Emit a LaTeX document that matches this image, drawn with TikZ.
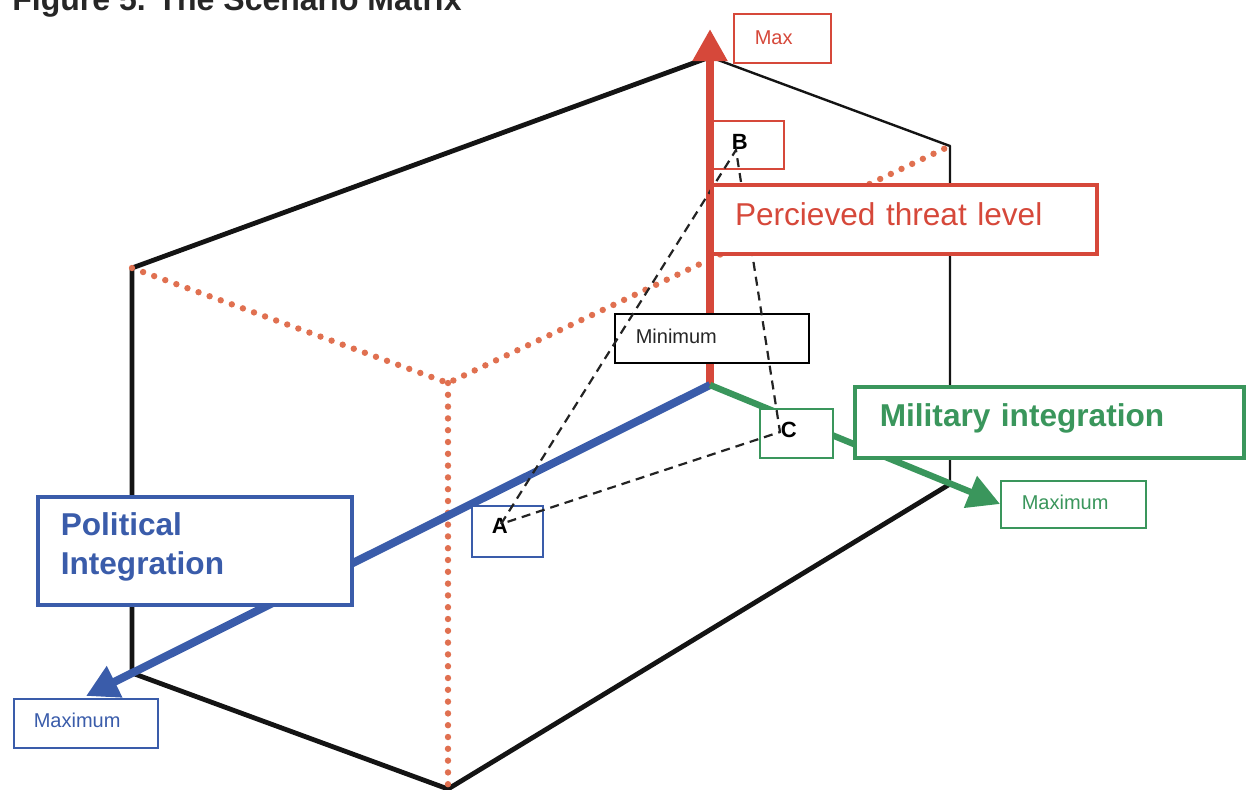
\documentclass[tikz,border=0pt]{standalone}
\usepackage{fontspec}
\setmainfont{Liberation Sans}
\usetikzlibrary{arrows.meta}

\definecolor{axred}{RGB}{214,72,58}
\definecolor{dotred}{RGB}{224,112,80}
\definecolor{axblue}{RGB}{58,92,170}
\definecolor{axgreen}{RGB}{58,150,92}
\definecolor{edgeblack}{RGB}{20,20,20}
\definecolor{linkgrey}{RGB}{35,35,35}

\tikzset{
  edgethick/.style={draw=edgeblack, line width=2.4pt, line join=round},
  edgethin/.style={draw=edgeblack, line width=1.2pt, line join=round},
  hiddenedge/.style={draw=dotred, line width=3.2pt, line cap=round, dash pattern=on 0pt off 5.9pt},
  axis/.style={line width=4pt, -{Triangle[length=16pt,width=16.5pt]}},
  tbox/.style={draw, fill=white, anchor=north west, inner ysep=0pt, align=left},
  thinbox/.style={tbox, line width=0.8pt, font=\fontsize{10}{12}\selectfont},
  thickbox/.style={tbox, line width=1.8pt, font=\fontsize{15.8}{19.5}\selectfont},
  letterbox/.style={thinbox, text=black, font=\bfseries\fontsize{11}{12}\selectfont},
  link/.style={draw=linkgrey, line width=1.1pt, dash pattern=on 4.5pt off 3pt}
}

\begin{document}
\begin{tikzpicture}[x=0.5pt, y=-0.5pt]
\useasboundingbox (0,0) rectangle (1248,789);
\clip (0,0) rectangle (1248,789);

% title, partly cut by the top edge
\node[anchor=base west, inner sep=0pt, text=black!85,
      font=\bfseries\fontsize{16}{19}\selectfont] (title) at (12,10)
      {Figure 5. The Scenario Matrix};

% corners of the box
\coordinate (ltop) at (132,268);
\coordinate (apex) at (710,57);
\coordinate (rtop) at (950,146);
\coordinate (lbot) at (132,673);
\coordinate (fbot) at (448,789);
\coordinate (rbot) at (950,484);
\coordinate (ftop) at (448,383);

% visible edges
\draw[edgethick] (lbot) -- (ltop) -- (apex);
\draw[edgethin] (apex) -- (rtop) -- (rbot);
\draw[edgethick] (lbot) -- (fbot) -- (rbot);

% hidden edges
\draw[hiddenedge] (ltop) -- (ftop) -- (rtop);
\draw[hiddenedge] (ftop) -- (fbot);

% scenario B box sits beside the threat axis
\node[letterbox, draw=axred, inner xsep=10.5pt, text width=15.5pt,
      text height=14.5pt, text depth=9.5pt] (boxB) at (710,120) {B};

% axes
\coordinate (O) at (710,385);
\coordinate (redTip) at (710,29);
\coordinate (blueTip) at (86,696);
\coordinate (greenTip) at (1000,504);
\draw[axis, draw=axred, fill=axred] (O) -- (redTip);
\draw[axis, draw=axblue, fill=axblue] (O) -- (blueTip);
\draw[axis, line width=3.2pt, draw=axgreen, fill=axgreen] (O) -- (greenTip);

% minimum and scenario boxes
\node[thinbox, draw=black, text=black!85, inner xsep=10.5pt, text width=76pt,
      text height=15pt, text depth=9.5pt] (minT) at (614,313) {Minimum};
\node[letterbox, draw=axblue, inner xsep=10pt, text width=15.5pt,
      text height=14pt, text depth=11.5pt] (boxA) at (471,505) {A};
\node[letterbox, draw=axgreen, inner xsep=10.5pt, text width=15.5pt,
      text height=14.5pt, text depth=10pt] (boxC) at (759,408) {C};

% scenario points and the triangle joining them
\coordinate (pA) at (501,524);
\coordinate (pB) at (736,150);
\coordinate (pC) at (780,432);
\draw[link] (pA) -- (pB) -- (pC) -- cycle;

% axis labels
\node[thinbox, draw=axred, text=axred, inner xsep=10.5pt, text width=27.5pt,
      text height=15.5pt, text depth=9pt] (maxT) at (733,13) {Max};
\node[thickbox, draw=axred, text=axred, line width=2pt, inner xsep=11.5pt,
      text width=169.5pt, text height=20pt, text depth=14.5pt] (threat) at (710,183)
      {Percieved threat level};
\node[thickbox, draw=axgreen, text=axgreen, font=\bfseries\fontsize{15.8}{19.5}\selectfont,
      inner xsep=12.5pt, text width=169.5pt, text height=20pt, text depth=15.5pt]
      (military) at (853,385) {Military integration};
\node[thinbox, draw=axgreen, text=axgreen, inner xsep=10.5pt, text width=51.5pt,
      text height=14.5pt, text depth=9pt] (maxM) at (1000,480) {Maximum};
\node[thickbox, draw=axblue, text=axblue, font=\bfseries\fontsize{15.8}{19.5}\selectfont,
      inner xsep=11.5pt, text width=134pt, text height=19.5pt, text depth=34.5pt]
      (political) at (36,495) {Political\\Integration};
\node[thinbox, draw=axblue, text=axblue, inner xsep=10pt, text width=52pt,
      text height=14.5pt, text depth=10pt] (maxP) at (13,698) {Maximum};
\end{tikzpicture}
\end{document}
